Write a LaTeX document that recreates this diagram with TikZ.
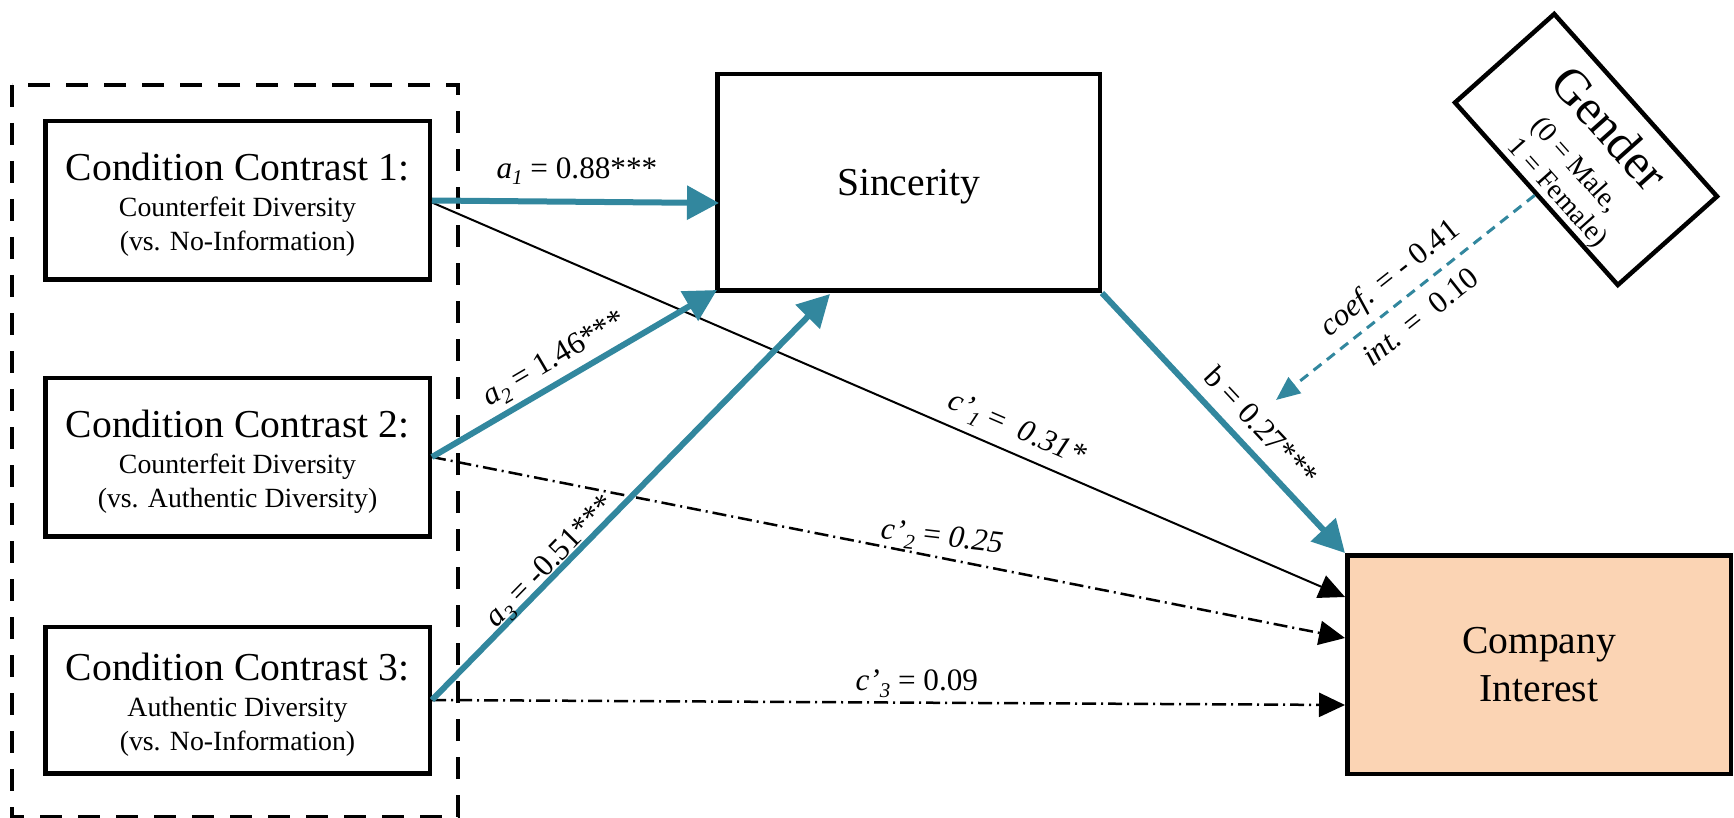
\documentclass[tikz,border=0pt]{standalone}
\usepackage{fontspec}
\setmainfont{Liberation Serif}
\usetikzlibrary{arrows.meta,calc}
\definecolor{tealc}{RGB}{50,135,158}
\definecolor{peachc}{RGB}{251,212,180}
\newcommand\mysub[1]{\raisebox{-3.3pt}{\fontsize{10.5}{12}\selectfont\textit{#1}}}
\begin{document}
\begin{tikzpicture}[x=0.5pt,y=-0.5pt,
  box/.style={draw, line width=2.25pt, inner sep=0pt, align=center},
  condbox/.style={box, minimum width=192.25pt, minimum height=79.25pt, font=\fontsize{13.9}{17}\selectfont},
  bigtxt/.style={font=\fontsize{19.8}{24}\selectfont},
  bluearrow/.style={draw=tealc, line width=3pt, -{Triangle[length=16pt,width=16.5pt]}},
  blackarrow/.style={line width=1pt, -{Triangle[length=13pt,width=12pt]}},
  dashdotarrow/.style={line width=1.25pt, dash pattern=on 7pt off 2.5pt on 1pt off 2.5pt, -{Triangle[length=13pt,width=12pt]}},
  modarrow/.style={draw=tealc, line width=1.5pt, dash pattern=on 5pt off 3.5pt, -{Triangle[length=12pt,width=10pt]}},
  lbl/.style={font=\fontsize{15.6}{18}\selectfont, inner sep=1pt},
]
\useasboundingbox (0,0) rectangle (1734,818);

% grouping frame
\draw[line width=2pt, dash pattern=on 11pt off 8pt] (12,85) rectangle (458,817);

% nodes
\node[condbox] (c1) at (237.5,200.5)
  {\rule{0pt}{18pt}{\fontsize{19.8}{20}\selectfont Condition Contrast 1:}\\[1pt]Counterfeit Diversity\\(vs. No-Information)};
\node[condbox] (c2) at (237.5,457)
  {\rule{0pt}{18pt}{\fontsize{19.8}{20}\selectfont Condition Contrast 2:}\\[1pt]Counterfeit Diversity\\(vs. Authentic Diversity)};
\node[condbox, minimum height=73.25pt] (c3) at (237.5,700)
  {\rule{0pt}{18pt}{\fontsize{19.8}{20}\selectfont Condition Contrast 3:}\\[1pt]Authentic Diversity\\(vs. No-Information)};

\node[box, bigtxt, minimum width=191.25pt, minimum height=108.25pt, text depth=0pt] (sinc) at (908.5,182.5) {Sincerity};
\node[box, bigtxt, fill=peachc, minimum width=191.75pt, minimum height=109.25pt] (ci) at (1539,664.5) {Company\\Interest};

\node[box, rotate=-48.25, minimum width=122.25pt, minimum height=66.5pt] (gender) at (1586,149.5) {};
\node[rotate=-48.25, align=center, inner sep=0pt, font=\fontsize{14}{16}\selectfont] (gtext) at (1580.7,154.2)
  {{\fontsize{25}{25}\selectfont Gender}\\[4.7pt]\hspace*{13.5pt}\rlap{(0 = Male,}\hphantom{1 = Female)}\\\hspace*{13.5pt}1 = Female)};
\coordinate (gtip) at (1276,400);

% connectors
\draw[blackarrow] ($(c1.east)+(0,2)$) -- ($(ci.north west)+(0,44)$)
  node[lbl, pos=0.63, sloped, above=3pt] {\textit{c’}\mysub{1} = \ \textit{0.31*}};
\draw[dashdotarrow] (c2.east) -- ($(ci.north west)+(0,85)$)
  node[lbl, pos=0.556, rotate=-6.5, above=1pt] {\textit{c’}\mysub{2} = \textit{0.25}};
\draw[dashdotarrow] (c3.east) -- ($(ci.north west)+(0,152)$)
  node[lbl, pos=0.531, above=1pt] {\textit{c’}\mysub{3} = 0.09};

\draw[bluearrow] (c1.east) -- ($(sinc.west)+(4,20.5)$)
  node[lbl, pos=0.505, above=6pt] {\textit{a}\mysub{1} = 0.88***};
\draw[bluearrow] (c2.east) -- ($(sinc.south west)+(2,-3)$)
  node[lbl, pos=0.47, sloped, above=1.5pt] {\textit{a}\mysub{2} = 1.46***};
\draw[bluearrow] (c3.east) -- ($(sinc.south west)+(115,1)$)
  node[lbl, pos=0.32, sloped, above=-4pt] {\textit{a}\mysub{3} = -0.51***};
\draw[bluearrow] (sinc.south east) -- (ci.north west)
  node[lbl, pos=0.58, sloped, above=5pt] {b = 0.27***};

\draw[modarrow] (gender.south) -- (gtip)
  node[lbl, pos=0.5, sloped, above=3pt] {\textit{coef.} = - 0.41}
  node[lbl, pos=0.5, sloped, below=5pt] {\textit{int.} = \ 0.10};
\end{tikzpicture}
\end{document}
